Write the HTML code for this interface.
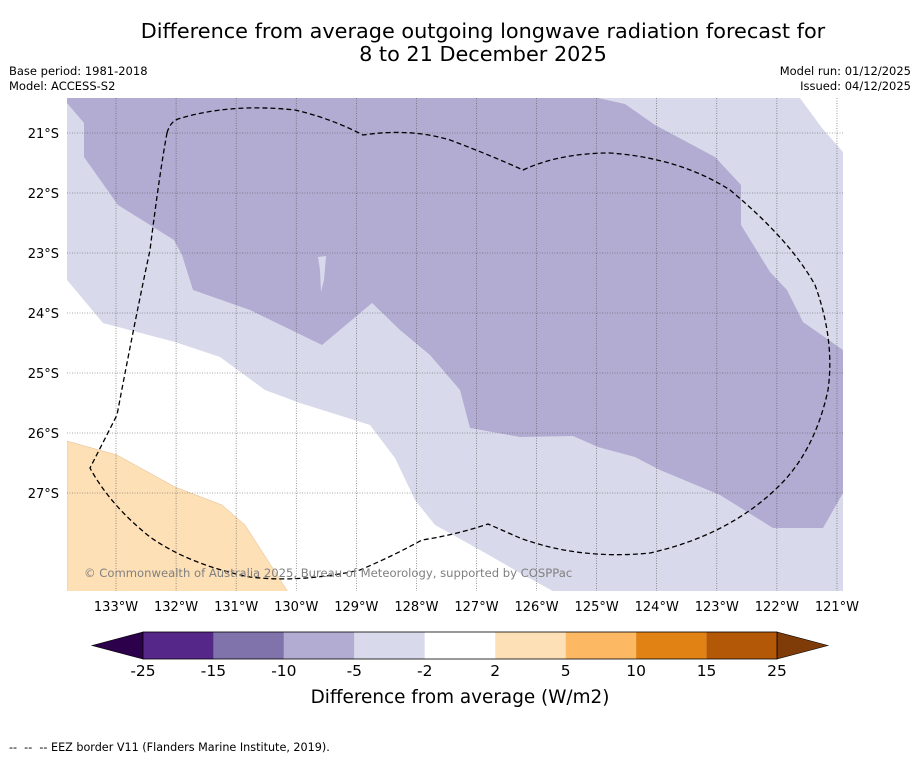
<!DOCTYPE html>
<html><head><meta charset="utf-8"><style>
body{margin:0;background:#fff;width:919px;height:758px;overflow:hidden;font-family:"Liberation Sans","DejaVu Sans",sans-serif}
</style></head><body>
<svg id="c" width="919" height="758" viewBox="0 0 919 758" xmlns="http://www.w3.org/2000/svg" font-family="DejaVu Sans, Liberation Sans, sans-serif">
<text x="483" y="38" font-size="20.8" text-anchor="middle">Difference from average outgoing longwave radiation forecast for</text>
<text x="483" y="61" font-size="20.8" text-anchor="middle">8 to 21 December 2025</text>
<text x="9" y="75" font-size="11.5">Base period: 1981-2018</text>
<text x="9" y="90" font-size="11.5">Model: ACCESS-S2</text>
<text x="911" y="75" font-size="11.5" text-anchor="end">Model run: 01/12/2025</text>
<text x="911" y="90" font-size="11.5" text-anchor="end">Issued: 04/12/2025</text>
<defs><clipPath id="mc"><rect x="67" y="98" width="776" height="493"/></clipPath></defs>
<g clip-path="url(#mc)">
<rect x="67" y="98" width="776" height="493" fill="#d8daeb"/>
<polygon fill="#ffffff" points="67,280 103,323 175,342 220,357 265,390 300,403 370,425 395,458 415,500 435,525 480,550 520,573 560,595 67,595"/>
<polygon fill="#ffffff" points="800,98 843,98 843,152 822,128"/>
<polygon fill="#fee0b6" stroke="#e0b98a" stroke-width="0.5" points="67,441 117,455 175,487 222,505 245,525 290,595 67,595"/>
<polygon fill="#b2abd2" points="67,98 598,98 625,104 655,125 715,157 741,185 741,225 770,272 787,290 803,322 843,350 843,493 823,528 773,528 720,495 660,470 635,457 598,447 573,436 520,437 470,428 460,390 430,355 400,330 372,303 322,345 250,310 193,290 182,255 174,240 118,205 84,157 84,123 67,103"/>
<polygon fill="#d8daeb" points="318,257 326,256 324,280 321,292 320,270"/>
<g id="grid"></g>
<path fill="none" stroke="#000" stroke-width="1.3" stroke-dasharray="5,3" d="M167,133 Q170,122 178,119 Q230,103 295,110 Q330,118 363,135 Q410,128 450,140 Q490,155 523,170 Q560,153 610,153 Q680,158 730,190 Q790,240 815,285 Q835,340 828,390 Q815,450 780,485 Q730,535 650,553 Q580,560 520,538 L488,524 Q455,535 422,540 Q395,555 360,570 Q300,583 250,577 Q190,565 150,537 Q110,505 90,468 L117,415 Q135,320 150,250 Q160,170 167,133"/>
<text x="84" y="577" font-size="11.6" fill="#808080">© Commonwealth of Australia 2025, Bureau of Meteorology, supported by COSPPac</text>
</g>
<g id="ticks"></g>
<g id="cbar"></g>
<text x="460" y="703" font-size="18.4" text-anchor="middle">Difference from average (W/m2)</text>
<text x="9" y="751" font-size="11.2" xml:space="preserve">--  --  -- EEZ border V11 (Flanders Marine Institute, 2019).</text>
</svg>
<script>
const lonTicks=[133,132,131,130,129,128,127,126,125,124,123,122,121];
const latTicks=[21,22,23,24,25,26,27];
const levels=["-25","-15","-10","-5","-2","2","5","10","15","25"];
const binColors=["#542788","#8073ac","#b2abd2","#d8daeb","#ffffff","#fee0b6","#fdb863","#e08214","#b35806"];
const NS="http://www.w3.org/2000/svg";
const xLon=l=>116+(133-l)*60.08;
const yLat=l=>133+(l-21)*60;
function mk(t,a,p){const e=document.createElementNS(NS,t);for(const k in a)e.setAttribute(k,a[k]);p.appendChild(e);return e;}
const g=document.getElementById('grid'),tk=document.getElementById('ticks'),cb=document.getElementById('cbar');
lonTicks.forEach(l=>{const x=xLon(l);
const ln=mk('line',{x1:x,x2:x,y1:98,y2:591,stroke:'#555','stroke-width':0.6,'stroke-dasharray':'1,1.5'},g);


const t=mk('text',{x:x,y:611,'font-size':13,'text-anchor':'middle'},tk);t.textContent=l+'°W';

});
latTicks.forEach(l=>{const y=yLat(l);
const ln=mk('line',{x1:67,x2:843,y1:y,y2:y,stroke:'#555','stroke-width':0.6,'stroke-dasharray':'1,1.5'},g);


const t=mk('text',{x:59,y:y+5,'font-size':13,'text-anchor':'end'},tk);t.textContent=l+'°S';

});
const x0=143,x1=777,w=(x1-x0)/binColors.length,y0=632,h=27;
const lt=mk('polygon',{points:`92,${y0+h/2} ${x0},${y0} ${x0},${y0+h}`,fill:'#2d004b',stroke:'#000','stroke-width':0.6},cb);


const rt=mk('polygon',{points:`828,${y0+h/2} ${x1},${y0} ${x1},${y0+h}`,fill:'#7f3b08',stroke:'#000','stroke-width':0.6},cb);


binColors.forEach((c,i)=>{const r=mk('rect',{x:x0+i*w,y:y0,width:w,height:h,fill:c},cb);

});
mk('rect',{x:x0,y:y0,width:x1-x0,height:h,fill:'none',stroke:'#000','stroke-width':0.8},cb);
levels.forEach((s,i)=>{const t=mk('text',{x:x0+i*w,y:676,'font-size':15.5,'text-anchor':'middle'},cb);t.textContent=s;

});
</script>
</body></html>
